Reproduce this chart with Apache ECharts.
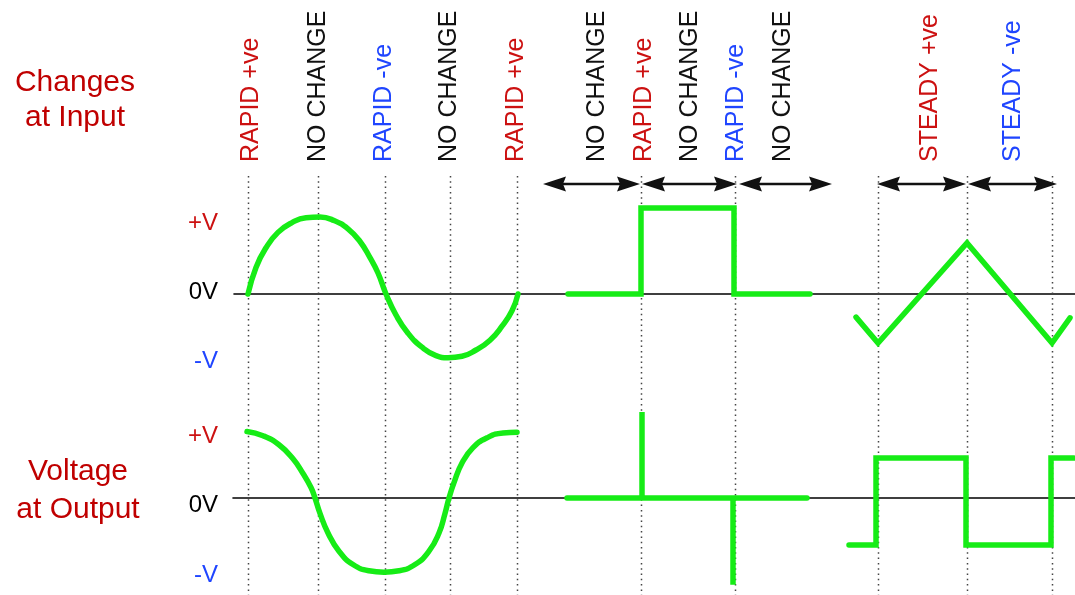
<!DOCTYPE html>
<html>
<head>
<meta charset="utf-8">
<script src="https://cdn.jsdelivr.net/npm/echarts@6/dist/echarts.min.js"></script>
<style>
html,body{margin:0;padding:0;background:#fff;}
#chart{width:1075px;height:595px;}
</style>
</head>
<body>
<div id="chart"></div>
<script>
// ---------- DATA (time in arbitrary units, voltage in % of V) ----------
const inputSine = [[14,0],[22,38],[32,66],[44,88],[58,102],[72,109],[86,110],[100,105],[114,93],[126,75],[136,52],[144,30],[152,0],
  [162,-30],[174,-56],[188,-76],[202,-88],[214,-91],[228,-89],[242,-80],[256,-66],[268,-46],[278,-24],[284,0]];
const inputPulse = [[334,0],[407,0],[407,123],[500,123],[500,0],[576,0]];
const inputTriangle = [[622,-33],[644,-70],[733,73],[818,-70],[836,-34]];

const outputCosine = [[14,95],[30,89],[46,76],[60,56],[70,35],[78,15],[82,0],[87,-22],[95,-50],[106,-76],[120,-95],[136,-104],[151,-106],
  [166,-104],[182,-95],[196,-76],[206,-50],[212,-22],[216,0],[221,22],[229,50],[240,72],[254,86],[270,93],[284,94]];
const outputSpikes = [[334,0],[409,0],[409,123],[409,0],[500,0],[500,-124],[500,0],[574,0]];
const outputSquare = [[616,-67],[643,-67],[643,57],[733,57],[733,-67],[818,-67],[818,57],[841,57]];

const eventTimes = [14,84,151,216,283,407,501,644,733,818];
const arrowSpans = [[309,406],[408,503],[505,598],[643,732],[734,823]];
const labelTimes = [17,84,150,215,282,363,410,456,502,549,696,779];
const labelNames = ['RAPID +ve','NO CHANGE','RAPID -ve','NO CHANGE','RAPID +ve','NO CHANGE','RAPID +ve','NO CHANGE','RAPID -ve','NO CHANGE','STEADY +ve','STEADY -ve'];
const labelKinds = ['pos','none','neg','none','pos','none','pos','none','neg','none','pos','neg'];

// ---------- STYLE / LAYOUT ----------
const GREEN = '#16ec16';
const RED = '#cc1111';
const BLUE = '#1f45ff';
const FONT = '"Liberation Sans", Arial, sans-serif';
const kindColor = {pos: RED, neg: BLUE, none: '#111'};
const L = {dotTop: 176, dotBottom: 595, arrowY: 184, labelBase: 162};

const chart = echarts.init(document.getElementById('chart'), null, {renderer: 'canvas'});

function greenLine(name, data, gi, smooth) {
  return {
    name, type: 'line', xAxisIndex: gi, yAxisIndex: gi, data,
    showSymbol: false, symbol: 'none', smooth: smooth || false,
    lineStyle: {color: GREEN, width: 5.5, cap: 'round', join: 'miter'},
    z: 5, animation: false, silent: true
  };
}

const option = {
  backgroundColor: '#fff',
  animation: false,
  grid: [
    {left: 234, right: 0, top: 154, height: 280, outerBoundsMode: 'none'},
    {left: 233, right: 0, top: 407, height: 182, outerBoundsMode: 'none'}
  ],
  xAxis: [0, 1].map(i => ({
    type: 'value', gridIndex: i, min: 0, max: i === 0 ? 841 : 842,
    axisLine: {show: true, onZero: true, lineStyle: {color: '#000', width: 1.6}},
    axisTick: {show: false}, axisLabel: {show: false}, splitLine: {show: false}
  })),
  yAxis: [
    {type: 'value', gridIndex: 0, min: -200, max: 200, show: false, splitLine: {show: false}},
    {type: 'value', gridIndex: 1, min: -130, max: 130, show: false, splitLine: {show: false}}
  ],
  graphic: [
    {type: 'text', x: 75, y: 100, style: {text: 'Changes\nat Input', fill: '#c00000', font: '30px ' + FONT, align: 'center', verticalAlign: 'middle', lineHeight: 35}},
    {type: 'text', x: 78, y: 491, style: {text: 'Voltage\nat Output', fill: '#c00000', font: '30px ' + FONT, align: 'center', verticalAlign: 'middle', lineHeight: 38}},
    {type: 'text', x: 218, y: 223, style: {text: '+V', fill: RED, font: '24px ' + FONT, align: 'right', verticalAlign: 'middle'}},
    {type: 'text', x: 218, y: 292, style: {text: '0V', fill: '#000', font: '24px ' + FONT, align: 'right', verticalAlign: 'middle'}},
    {type: 'text', x: 218, y: 361, style: {text: '-V', fill: BLUE, font: '24px ' + FONT, align: 'right', verticalAlign: 'middle'}},
    {type: 'text', x: 218, y: 436, style: {text: '+V', fill: RED, font: '24px ' + FONT, align: 'right', verticalAlign: 'middle'}},
    {type: 'text', x: 218, y: 505, style: {text: '0V', fill: '#000', font: '24px ' + FONT, align: 'right', verticalAlign: 'middle'}},
    {type: 'text', x: 218, y: 575, style: {text: '-V', fill: BLUE, font: '24px ' + FONT, align: 'right', verticalAlign: 'middle'}}
  ],
  series: [
    {
      name: 'events', type: 'custom', xAxisIndex: 0, yAxisIndex: 0,
      data: eventTimes.map(t => [t, 0]), z: 1, silent: true,
      renderItem: (params, api) => {
        const x = Math.round(api.coord([api.value(0), 0])[0]) + 0.5;
        return {type: 'line', shape: {x1: x, y1: L.dotTop, x2: x, y2: L.dotBottom},
          style: {stroke: '#444', lineWidth: 1.5, lineDash: [1.5, 3.8]}};
      }
    },
    {
      name: 'arrows', type: 'custom', xAxisIndex: 0, yAxisIndex: 0,
      data: arrowSpans, z: 3, silent: true,
      renderItem: (params, api) => {
        const x1 = api.coord([api.value(0), 0])[0];
        const x2 = api.coord([api.value(1), 0])[0];
        const y = L.arrowY, hl = 23, hw = 7.5;
        return {type: 'group', children: [
          {type: 'line', shape: {x1: x1 + hl - 4, y1: y, x2: x2 - hl + 4, y2: y}, style: {stroke: '#111', lineWidth: 2.4}},
          {type: 'polygon', shape: {points: [[x1, y], [x1 + hl, y - hw], [x1 + hl - 3, y], [x1 + hl, y + hw]]}, style: {fill: '#111'}},
          {type: 'polygon', shape: {points: [[x2, y], [x2 - hl, y - hw], [x2 - hl + 3, y], [x2 - hl, y + hw]]}, style: {fill: '#111'}}
        ]};
      }
    },
    {
      name: 'labels', type: 'custom', xAxisIndex: 0, yAxisIndex: 0,
      data: labelTimes.map((t, i) => [t, i]), z: 3, silent: true,
      renderItem: (params, api) => {
        const i = api.value(1);
        const x = api.coord([api.value(0), 0])[0];
        return {type: 'text', x: x, y: L.labelBase, rotation: Math.PI / 2,
          style: {text: labelNames[i], fill: kindColor[labelKinds[i]], font: '25px ' + FONT, align: 'left', verticalAlign: 'middle'}};
      }
    },
    greenLine('inputSine', inputSine, 0, 0.5),
    greenLine('inputPulse', inputPulse, 0),
    greenLine('inputTriangle', inputTriangle, 0),
    greenLine('outputCosine', outputCosine, 1, 0.5),
    greenLine('outputSpikes', outputSpikes, 1),
    greenLine('outputSquare', outputSquare, 1)
  ]
};
chart.setOption(option);
</script>
</body>
</html>
